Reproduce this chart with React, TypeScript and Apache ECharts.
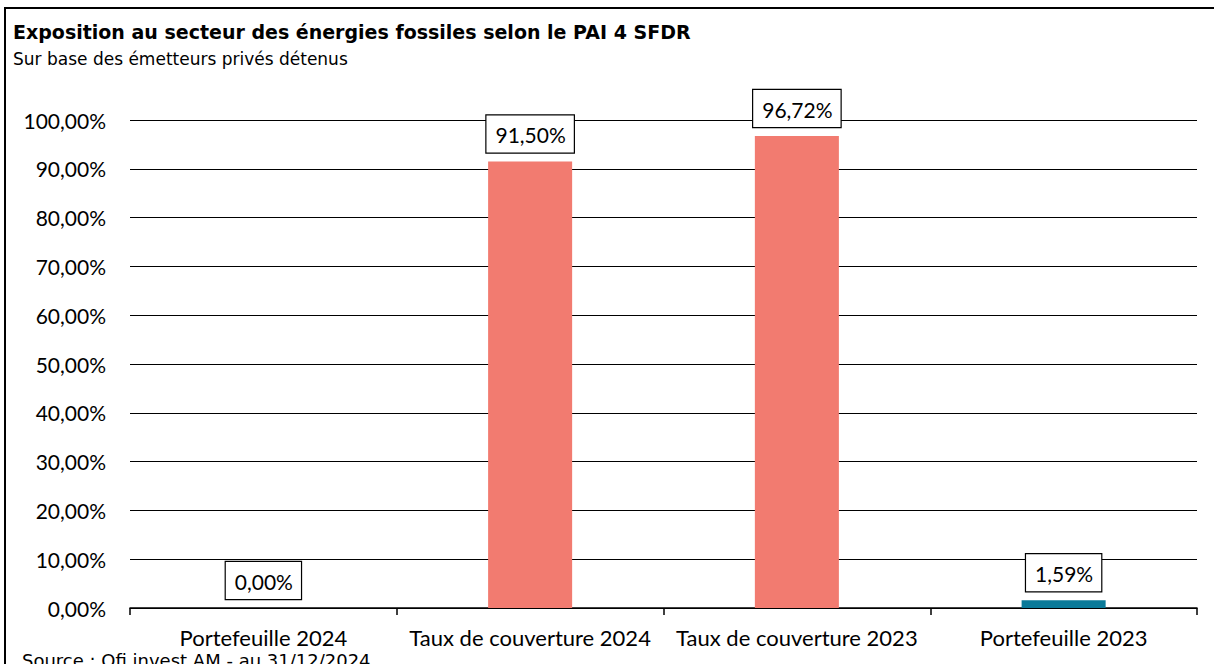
import React, { useEffect, useRef } from "react";
import * as echarts from "echarts";

const categories = ["Portefeuille 2024", "Taux de couverture 2024", "Taux de couverture 2023", "Portefeuille 2023"];
const values = [0.0, 91.5, 96.72, 1.59];
const barColors = ["#0A7A99", "#F27B70", "#F27B70", "#0A7A99"];
const title = "Exposition au secteur des énergies fossiles selon le PAI 4 SFDR";
const subtitle = "Sur base des émetteurs privés détenus";
const source = "Source : Ofi invest AM - au 31/12/2024";

const fmt = (v: number) => v.toFixed(2).replace(".", ",") + "%";

export default function App() {
  const ref = useRef<HTMLDivElement>(null);
  useEffect(() => {
    if (!ref.current) return;
    const chart = echarts.init(ref.current, null, { renderer: "svg" });
    chart.setOption({
      animation: false,
      backgroundColor: "#fff",
      textStyle: { fontFamily: "Lato" },
      title: [
        {
          text: title,
          left: 8,
          top: 17,
          textStyle: { fontFamily: "DejaVu Sans", fontWeight: "bold", fontSize: 19, color: "#000" },
        },
        {
          text: subtitle,
          left: 8,
          top: 45,
          textStyle: { fontFamily: "DejaVu Sans", fontWeight: "normal", fontSize: 17, color: "#000" },
        },
        {
          text: source,
          left: 17,
          top: 646,
          textStyle: { fontFamily: "DejaVu Sans", fontWeight: "normal", fontSize: 18, color: "#000" },
        },
      ],
      grid: { left: 130, right: 23, top: 120, bottom: 64, containLabel: false },
      xAxis: {
        type: "category",
        data: categories,
        axisLine: { show: true, lineStyle: { color: "#000", width: 1.5 } },
        axisTick: { show: true, alignWithLabel: false, length: 7, lineStyle: { color: "#000", width: 1.5 } },
        axisLabel: { color: "#000", fontSize: 22, fontFamily: "Lato", margin: 18, interval: 0 },
      },
      yAxis: {
        type: "value",
        min: 0,
        max: 100,
        interval: 10,
        axisLine: { show: false },
        axisTick: { show: false },
        splitLine: { lineStyle: { color: "#000", width: 1.2 } },
        axisLabel: {
          color: "#000",
          fontSize: 21,
          fontFamily: "Lato",
          margin: 24,
          formatter: (v: number) => fmt(v),
        },
      },
      series: [
        {
          type: "bar",
          data: values.map((v, i) => ({
            value: v,
            itemStyle: { color: barColors[i] },
          })),
          barWidth: "31.5%",
          label: {
            show: true,
            position: "top",
            distance: 9,
            formatter: (p: any) => fmt(p.value),
            color: "#000",
            fontSize: 21,
            fontFamily: "Lato",
            backgroundColor: "#fff",
            borderColor: "#000",
            borderWidth: 1.2,
            padding: [9, 8, 7, 9],
          },
        },
      ],
    });
    return () => chart.dispose();
  }, []);
  return (
    <div
      style={{
        position: "fixed",
        left: 4,
        top: 7,
        width: 1222,
        height: 670,
        border: "2px solid #000",
        boxSizing: "border-box",
        overflow: "hidden",
        background: "#fff",
      }}
    >
      <div ref={ref} style={{ position: "absolute", left: -6, top: -9, width: 1220, height: 672 }} />
    </div>
  );
}
